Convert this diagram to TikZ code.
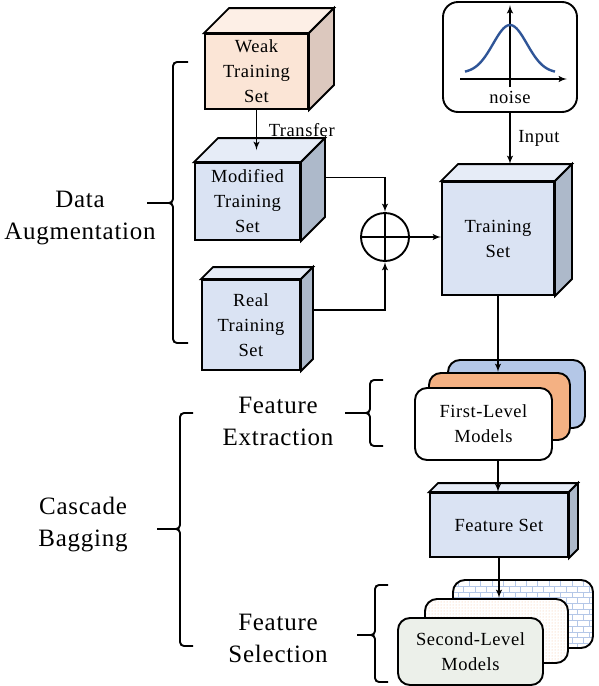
\documentclass[tikz,border=0pt]{standalone}
\usepackage{fontspec}
\setmainfont{Liberation Serif}[LetterSpace=3]
\usepackage{xcolor}
\usepackage{tikz}
\usetikzlibrary {positioning}
\usetikzlibrary{arrows}
\usetikzlibrary{patterns}
\tikzset{edge/.style = {->,> = latex'}}
\definecolor{frontblue}{RGB}{218,227,243}
\definecolor{sideblue}{RGB}{173,185,202}
\definecolor{topblue}{RGB}{230,236,247}
\definecolor{frontpeach}{RGB}{251,229,214}
\definecolor{sidepeach}{RGB}{220,200,190}
\definecolor{toppeach}{RGB}{253,239,230}
\definecolor{stackblue}{RGB}{180,199,231}
\definecolor{stackorange}{RGB}{244,177,131}
\definecolor{curveblue}{RGB}{47,85,151}
\definecolor{palegreen}{RGB}{236,240,234}

\begin{document}
\begin{tikzpicture}[x=1pt,y=-1pt,line width=1.9pt,
    cube node/.style={rectangle,draw,fill=frontblue,align=center,inner sep=0pt,font=\fontsize{18.5}{25}\selectfont},
    stack node/.style={rectangle,draw,rounded corners=12pt,align=center,inner sep=0pt,font=\fontsize{18.5}{25}\selectfont},
    side text/.style={font=\fontsize{18.5}{25}\selectfont},
    group text/.style={align=center,font=\fontsize{25}{32}\selectfont},
    brace/.style={rounded corners=4pt}]
    \useasboundingbox (0,0) rectangle (598,686);

    % data augmentation part
    \node[cube node, fill=frontpeach, minimum width=103, minimum height=75] (1) at (256.5,71.5) {Weak\\Training\\Set};
    \node[cube node, minimum width=105, minimum height=77] (2) at (247.5,201.5) {Modified\\Training\\Set};
    \node[cube node, minimum width=98, minimum height=90] (3) at (251,325) {Real\\Training\\Set};
    \node[circle, draw, minimum size=48, inner sep=0pt] (4) at (385,237) {};
    \node[cube node, minimum width=112, minimum height=113] (5) at (498,238.5) {Training\\Set};
    \node[rectangle, draw, rounded corners=15pt, minimum width=134, minimum height=110] (6) at (510,57) {};
    \node[side text] (noise) at (510,97) {noise};

    % first level
    \node[stack node, fill=stackblue, minimum width=137, minimum height=68] (7) at (516.5,394) {};
    \node[stack node, fill=stackorange, minimum width=141, minimum height=67] (8) at (499.5,406.5) {};
    \node[stack node, fill=white, minimum width=137, minimum height=72] (9) at (483.5,424) {First-Level\\Models};
    \node[cube node, minimum width=138, minimum height=64] (10) at (499,525) {Feature Set};

    % second level
    \node[stack node, preaction={fill=white}, pattern=bricks, pattern color=stackblue, minimum width=140, minimum height=68] (11) at (523,614) {};
    \node[stack node, preaction={fill=white}, pattern=dots, pattern color=stackorange!80, minimum width=143, minimum height=64] (12) at (496.5,631) {};
    \node[stack node, fill=palegreen, minimum width=145, minimum height=67] (13) at (470.5,651.5) {Second-Level\\Models};

    % cube faces
    \foreach \n/\d/\t/\s in {1/25/toppeach/sidepeach, 2/24/topblue/sideblue, 3/12/topblue/sideblue, 5/17/topblue/sideblue, 10/9/topblue/sideblue} {
        \draw[fill=\t] (\n.north west) -- ++(\d,-\d) -- ([shift={(\d,-\d)}]\n.north east) -- (\n.north east) -- cycle;
        \draw[fill=\s] (\n.north east) -- ++(\d,-\d) -- ([shift={(\d,-\d)}]\n.south east) -- (\n.south east) -- cycle;
    }
    \coordinate (2t) at ([shift={(12,-12)}]2.north);
    \coordinate (5t) at ([shift={(17,-17)}]5.north);

    % noise curve
    \draw[edge] ([shift={(-50,22)}]6.center) -- ([shift={(57,22)}]6.center);
    \draw[edge] ([shift={(0,30)}]6.center) -- ([shift={(0,-52)}]6.center);
    \draw[curveblue, line width=2.4pt] plot[smooth, domain=-45:45, samples=50] ({510+\x},{73-48*exp(-(\x/24)^2)});

    % plus sign
    \draw (4.north) -- (4.south) (4.west) -- (4.east);

    % connectors
    \draw[edge] (1.south) -- (1.south |- 2t) node[midway, right, xshift=8pt, side text] {Transfer};
    \draw[edge] (2.east) ++(24,-24) -| (4.north);
    \draw[edge] (3.east) ++(12,-15) -| (4.south);
    \draw[edge] (4.east) -- (4.east -| 5.west);
    \draw[edge] (6.south) -- (6.south |- 5t) node[midway, right, xshift=4pt, side text] {Input};
    \draw[edge] (5.south) -- (5.south |- 8.north);
    \draw[edge] (5.south |- 9.south) -- (5.south |- 10.north);
    \draw[edge] (10.south) -- (10.south |- 12.north);

    % braces
    \foreach \x/\t/\m/\b/\l/\r in {173/62/203/343/147/188, 180/413/529/646/157/193, 370/380/413/446/345/383, 375/585/635/682/357/388} {
        \draw[brace] (\r,\t) -- (\x,\t) -- (\x,\m) -- (\l,\m);
        \draw[brace] (\l,\m) -- (\x,\m) -- (\x,\b) -- (\r,\b);
    }
    \node[group text] (a) at (80,218) {Data\\Augmentation};
    \node[group text] (b) at (83,525) {Cascade\\Bagging};
    \node[group text] (c) at (278,421) {Feature\\Extraction};
    \node[group text] (d) at (278,638) {Feature\\Selection};
\end{tikzpicture}
\end{document}
